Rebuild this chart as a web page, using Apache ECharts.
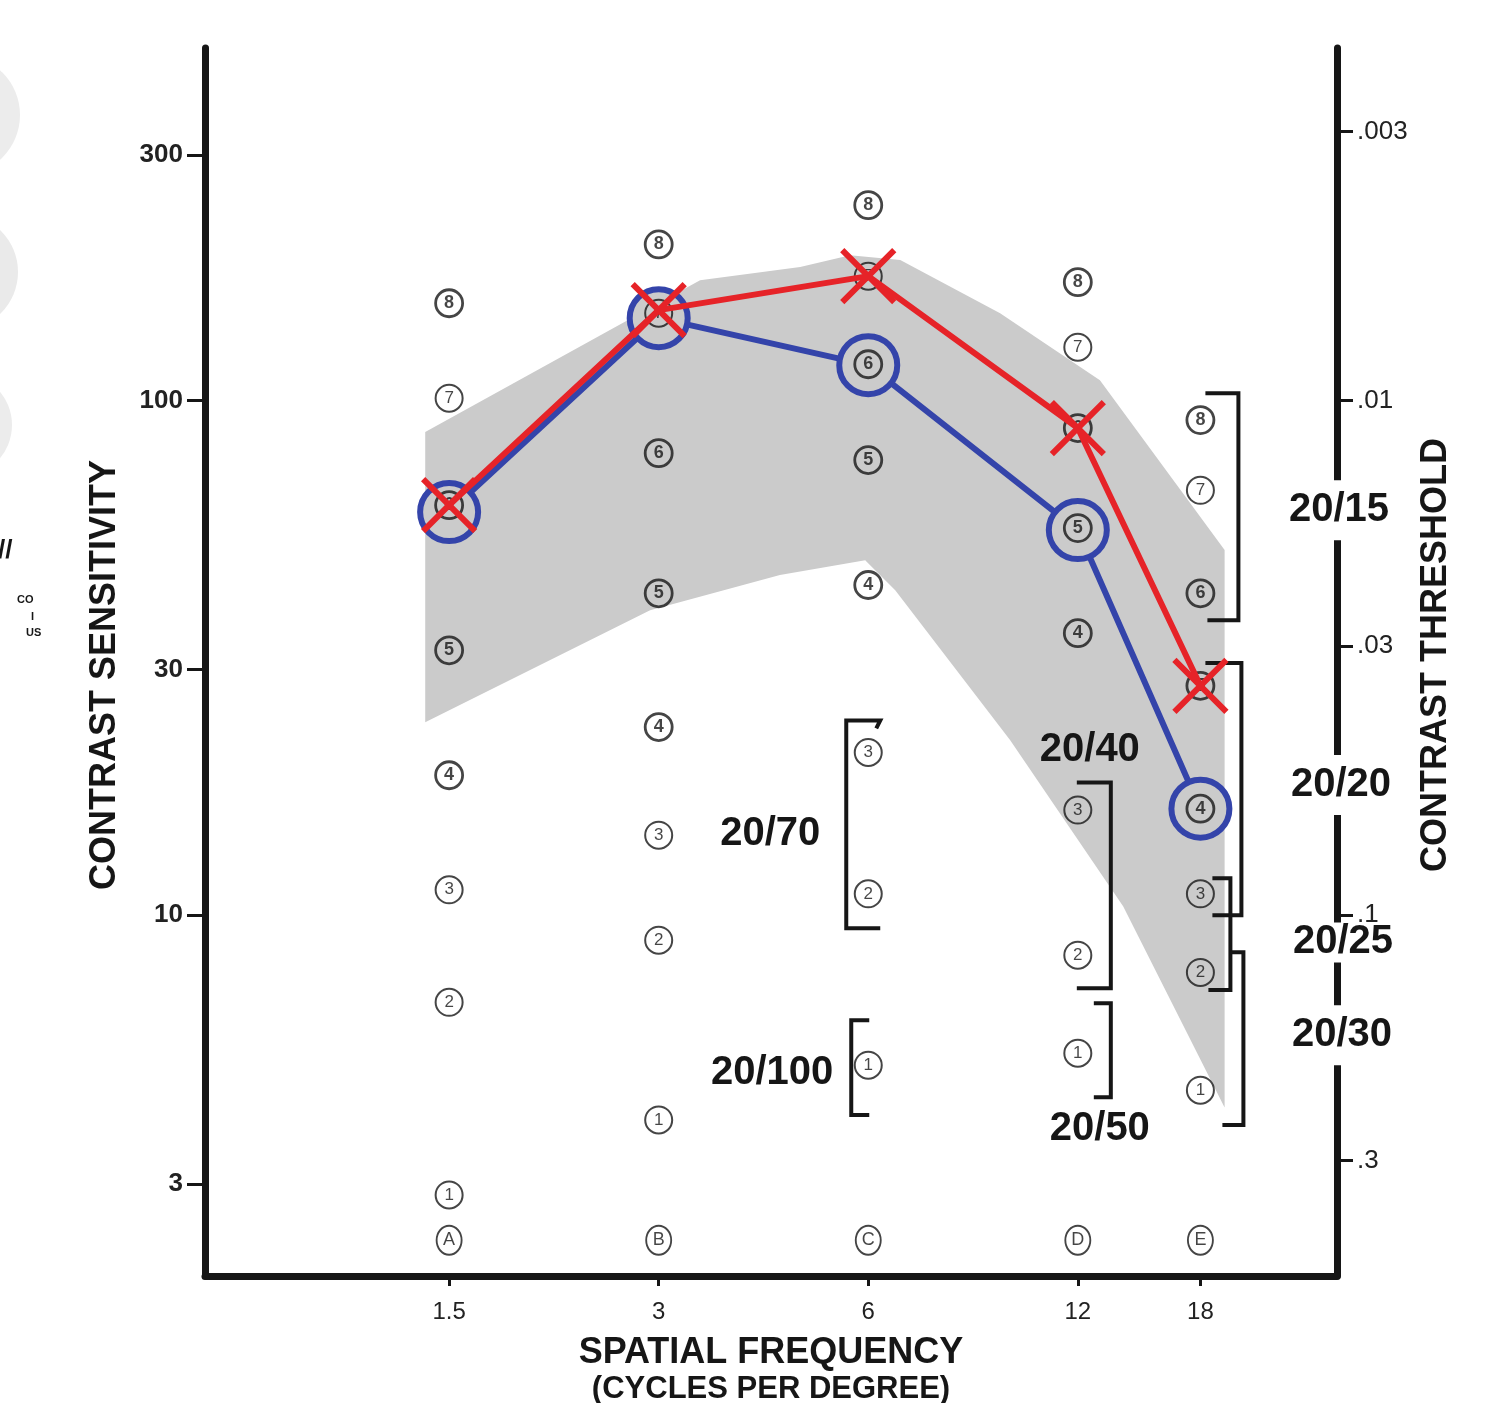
<!DOCTYPE html>
<html>
<head>
<meta charset="utf-8">
<script src="https://cdn.jsdelivr.net/npm/echarts@6.0.0/dist/echarts.min.js"></script>
<style>
html,body{margin:0;padding:0;background:#fff;}
#chart{width:1488px;height:1403px;}
</style>
</head>
<body>
<div id="chart"></div>
<script>
// ---------------- DATA ----------------
const freqs = [1.5, 3, 6, 12, 18];                 // spatial frequency (cycles/degree)
const columnLetters = ['A', 'B', 'C', 'D', 'E'];
const letterLevel = 2.335;                           // sensitivity level of the row letters
// contrast sensitivity of patches 1..8 in each column
const patchA = [2.86, 6.77, 11.2, 18.7, 32.7, 62.6, 101, 154.5];
const patchB = [4.0, 8.94, 14.3, 23.2, 42.2, 79, 147.8, 201];
const patchC = [5.11, 11.0, 20.7, 43.8, 76.6, 117.6, 174.4, 239.6];
const patchD = [5.39, 8.36, 16.0, 35.3, 56.5, 88.4, 126.9, 169.8];
const patchE = [4.57, 7.74, 11.0, 16.1, 27.9, 42.2, 66.9, 91.6];
// two tested curves
const blueCurve = [60.7, 144.5, 117.1, 56.0, 16.1];
const redCurve = [62.6, 149.8, 174.4, 88.4, 27.9];
// normal range (grey band)
const bandUpperFreq = [1.386, 3.44, 4.79, 5.65, 6.67, 9.28, 12.91, 19.5];
const bandUpper = [86.8, 171.3, 181.6, 191.6, 187.4, 147.8, 109.5, 51.2];
const bandLowerFreq = [1.386, 2.916, 4.48, 5.94, 6.56, 9.59, 13.94, 19.5];
const bandLower = [23.7, 39.1, 45.8, 48.9, 42.8, 21.9, 10.4, 4.23];
// axis ticks
const freqTicks = [1.5, 3, 6, 12, 18];
const sensTicks = [3, 10, 30, 100, 300];
const thresholdTicks = [0.003, 0.01, 0.03, 0.1, 0.3];
// acuity brackets
const acuityLabels = ['20/15', '20/20', '20/25', '20/30', '20/70', '20/100', '20/40', '20/50'];
const acuityColumn = [18, 18, 18, 18, 6, 6, 12, 12];
const acuityTop = [103.3, 30.9, 11.8, 8.47, 23.9, 6.25, 18.1, 6.74];
const acuityBottom = [37.4, 10.0, 7.15, 3.91, 9.43, 4.09, 7.21, 4.43];
const acuityLabelLevel = [61.2, 17.9, 8.85, 5.84, 14.4, 4.93, 20.9, 3.85];

// ---------------- STYLE / LAYOUT ----------------
const FONT = '"Liberation Sans", Arial, Helvetica, sans-serif';
const INK = '#161616';
const BLUE = '#3444aa';
const RED = '#e62328';
const BAND = '#cbcbcb';
const boldPatches = [4, 5, 6, 8];
// pixel offsets of bracket parts relative to their column
const bracketLayout = [
  {v: 38, t: 5, b: 7},
  {v: 41, t: 5, b: 12},
  {v: 30, t: 12, b: 8},
  {v: 43, t: 30, b: 22},
  {v: -22, t: 12, b: 12, hook: true},
  {v: -17, t: 1, b: 1},
  {v: 33, t: -1, b: -1},
  {v: 33, t: 16, b: 16}
];
const labelLayout = [
  {axis: true, dx: 2, pad: [10, 2]},
  {axis: true, dx: 4, pad: [10, 2]},
  {axis: true, dx: 6, pad: [0, 2, 12, 2], lh: 28},
  {axis: true, dx: 5, pad: [10, 2]},
  {dx: -48, align: 'right'}, {dx: -35, align: 'right'}, {dx: 12}, {dx: 22}
];

// ---------------- BUILD ----------------
const patchColumns = [patchA, patchB, patchC, patchD, patchE];
const patchBold = [], patchRegular = [];
patchColumns.forEach((col, c) => col.forEach((v, k) => {
  const item = [freqs[c], v, String(k + 1)];
  (boldPatches.includes(k + 1) ? patchBold : patchRegular).push(item);
}));
const letterData = freqs.map((f, i) => [f, letterLevel, columnLetters[i]]);
const blueData = freqs.map((f, i) => [f, blueCurve[i]]);
const redData = freqs.map((f, i) => [f, redCurve[i]]);
const bracketData = acuityColumn.map((f, i) => [f, acuityTop[i], acuityBottom[i]]);
const labelData = acuityColumn.map((f, i) => [f, acuityLabelLevel[i]]);

const fmtNum = v => String(Number(Number(v).toPrecision(2)));
const fmtThr = v => String(Number(Number(v).toPrecision(1))).replace(/^0\./, '.');

const chart = echarts.init(document.getElementById('chart'), null, {renderer: 'canvas'});

const patchLabel = (bold, size) => ({
  show: true, position: 'inside', formatter: p => p.value[2],
  fontSize: size, fontWeight: bold ? 'bold' : 'normal', color: INK, fontFamily: FONT
});

chart.setOption({
  animation: false,
  backgroundColor: '#fff',
  grid: {left: 205, right: 151, top: 48, bottom: 127, containLabel: false, outerBoundsMode: 'none'},
  xAxis: {
    type: 'log', logBase: 2, min: 0.669, max: 28.28,
    axisLine: {show: true, onZero: false, lineStyle: {color: INK, width: 7}},
    axisTick: {show: true, customValues: freqTicks, length: 10, lineStyle: {color: INK, width: 3}},
    axisLabel: {customValues: freqTicks, formatter: fmtNum, fontSize: 24, color: '#222', margin: 24, fontFamily: FONT},
    splitLine: {show: false}, minorTick: {show: false}, minorSplitLine: {show: false},
    name: '{a|SPATIAL FREQUENCY}\n{b|(CYCLES PER DEGREE)}',
    nameLocation: 'middle', nameGap: 57,
    nameTextStyle: {
      color: INK,
      rich: {
        a: {fontSize: 36, fontWeight: 'bold', fontFamily: FONT, lineHeight: 40, color: INK},
        b: {fontSize: 31, fontWeight: 'bold', fontFamily: FONT, lineHeight: 33, color: INK}
      }
    }
  },
  yAxis: [
    {
      type: 'log', logBase: 10, min: 1.99, max: 484, position: 'left',
      axisLine: {show: true, onZero: false, lineStyle: {color: INK, width: 7}},
      axisTick: {show: true, customValues: sensTicks, length: 18, lineStyle: {color: INK, width: 3}},
      axisLabel: {customValues: sensTicks, formatter: fmtNum, fontSize: 26, fontWeight: 'bold', color: '#222', margin: 22, fontFamily: FONT},
      splitLine: {show: false}, minorTick: {show: false}, minorSplitLine: {show: false},
      name: 'CONTRAST SENSITIVITY', nameLocation: 'middle', nameGap: 82, nameRotate: 90,
      nameTextStyle: {fontSize: 36, fontWeight: 'bold', color: INK, fontFamily: FONT, padding: [0, 26, 0, 0]}
    },
    {
      type: 'log', logBase: 10, min: 1 / 484, max: 1 / 1.99, inverse: true, position: 'right',
      axisLine: {show: true, onZero: false, lineStyle: {color: INK, width: 7}},
      axisTick: {show: true, customValues: thresholdTicks, length: 16, lineStyle: {color: INK, width: 3}},
      axisLabel: {customValues: thresholdTicks, formatter: fmtThr, fontSize: 26, color: '#222', margin: 20, fontFamily: FONT},
      splitLine: {show: false}, minorTick: {show: false}, minorSplitLine: {show: false},
      name: 'CONTRAST THRESHOLD', nameLocation: 'middle', nameGap: 78, nameRotate: 90,
      nameTextStyle: {fontSize: 36, fontWeight: 'bold', color: INK, fontFamily: FONT, padding: [0, 0, 0, 14]}
    }
  ],
  series: [
    {
      type: 'custom', name: 'normal range', z: 1, silent: true, data: [[freqs[0], bandUpper[0]]],
      renderItem(params, api) {
        const pts = [];
        for (let i = 0; i < bandUpper.length; i++) pts.push(api.coord([bandUpperFreq[i], bandUpper[i]]));
        for (let i = bandLower.length - 1; i >= 0; i--) pts.push(api.coord([bandLowerFreq[i], bandLower[i]]));
        return {type: 'polygon', shape: {points: pts}, style: {fill: BAND}};
      }
    },
    {
      type: 'custom', name: 'brackets', z: 2, silent: true, data: bracketData,
      renderItem(params, api) {
        const L = bracketLayout[params.dataIndex];
        const top = api.coord([api.value(0), api.value(1)]);
        const bot = api.coord([api.value(0), api.value(2)]);
        const cx = top[0];
        const pts = [[cx + L.t, top[1]], [cx + L.v, top[1]], [cx + L.v, bot[1]], [cx + L.b, bot[1]]];
        if (L.hook) pts.unshift([cx + L.t - 4, top[1] + 8]);
        return {type: 'polyline', shape: {points: pts}, style: {stroke: INK, lineWidth: 4, fill: null, lineJoin: 'miter'}};
      }
    },
    {
      type: 'line', name: 'blue', z: 3, silent: true, data: blueData,
      symbol: 'circle', symbolSize: 58,
      lineStyle: {color: BLUE, width: 6},
      itemStyle: {color: BAND, borderColor: BLUE, borderWidth: 6}
    },
    {
      type: 'scatter', name: 'patches', z: 4, silent: true, data: patchRegular,
      symbol: 'circle', symbolSize: 27,
      itemStyle: {color: 'rgba(0,0,0,0)', borderColor: INK, borderWidth: 2},
      label: patchLabel(false, 17)
    },
    {
      type: 'scatter', name: 'patchesBold', z: 4, silent: true, data: patchBold,
      symbol: 'circle', symbolSize: 27,
      itemStyle: {color: 'rgba(0,0,0,0)', borderColor: INK, borderWidth: 2.8},
      label: patchLabel(true, 18)
    },
    {
      type: 'scatter', name: 'rows', z: 4, silent: true, data: letterData,
      symbol: 'circle', symbolSize: [25, 29],
      itemStyle: {color: 'rgba(0,0,0,0)', borderColor: INK, borderWidth: 2},
      label: patchLabel(false, 18)
    },
    {
      type: 'line', name: 'red', z: 6, silent: true, data: redData,
      symbol: 'path://M0,0L50,50M50,0L0,50', symbolSize: 52,
      lineStyle: {color: RED, width: 6},
      itemStyle: {color: RED, borderColor: RED, borderWidth: 6}
    },
    {
      type: 'custom', name: 'acuity', z: 7, silent: true, data: labelData,
      renderItem(params, api) {
        const i = params.dataIndex;
        const L = labelLayout[i];
        const p = api.coord([api.value(0), api.value(1)]);
        const x = L.axis ? params.coordSys.x + params.coordSys.width + L.dx : p[0] + L.dx;
        const style = {
          text: acuityLabels[i], fontSize: 40, fontWeight: 'bold', fontFamily: FONT, fill: INK,
          align: L.align || 'center', verticalAlign: 'middle',
          backgroundColor: L.axis ? '#fff' : 'transparent', padding: L.axis ? L.pad : 0
        };
        if (L.lh) style.lineHeight = L.lh;
        return {type: 'text', x: x, y: p[1], style: style};
      }
    }
  ],
  graphic: [
    {type: 'circle', shape: {cx: -40, cy: 115, r: 60}, style: {fill: '#ececec'}, silent: true},
    {type: 'circle', shape: {cx: -40, cy: 272, r: 58}, style: {fill: '#eaeaea'}, silent: true},
    {type: 'circle', shape: {cx: -40, cy: 425, r: 52}, style: {fill: '#ececec'}, silent: true},
    {type: 'text', x: -2, y: 538, style: {text: '//', fontSize: 26, fontWeight: 'bold', fontFamily: FONT, fill: INK}, silent: true},
    {type: 'text', x: 17, y: 594, style: {text: 'CO', fontSize: 11, fontWeight: 'bold', fontFamily: FONT, fill: INK}, silent: true},
    {type: 'text', x: 31, y: 611, style: {text: 'I', fontSize: 11, fontWeight: 'bold', fontFamily: FONT, fill: INK}, silent: true},
    {type: 'text', x: 26, y: 627, style: {text: 'US', fontSize: 11, fontWeight: 'bold', fontFamily: FONT, fill: INK}, silent: true}
  ]
});
</script>
</body>
</html>
